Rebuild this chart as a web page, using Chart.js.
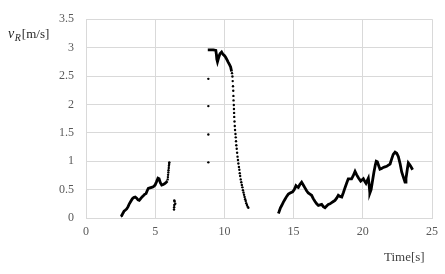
<!DOCTYPE html>
<html>
<head>
<meta charset="utf-8">
<script src="https://cdn.jsdelivr.net/npm/chart.js@4"></script>
<style>
  html, body { margin: 0; padding: 0; background: #fff; }
  #wrap { width: 445px; height: 274px; }
</style>
</head>
<body>
<div id="wrap"><canvas id="chart" width="445" height="274"></canvas></div>
<script>
// readings taken off the original plot (time in s, speed in m/s)
// first walking part (dense trace)
var tA = [2.5, 2.58, 2.66, 2.75, 2.85, 2.94, 3.04, 3.13, 3.25, 3.35, 3.45, 3.56, 3.66, 3.76, 3.85, 3.95, 4.05, 4.14, 4.25, 4.34, 4.42, 4.5, 4.62, 4.74, 4.86, 4.99, 5.1, 5.2, 5.28, 5.37, 5.47, 5.58, 5.71, 5.8, 5.88];
var vA = [0.03, 0.04, 0.08, 0.12, 0.14, 0.16, 0.2, 0.25, 0.3, 0.34, 0.36, 0.37, 0.35, 0.32, 0.31, 0.34, 0.37, 0.39, 0.42, 0.43, 0.48, 0.52, 0.53, 0.54, 0.55, 0.58, 0.64, 0.7, 0.69, 0.62, 0.58, 0.59, 0.61, 0.63, 0.65];

// plateau near 3 m/s
var tB = [8.8, 9.0, 9.2, 9.38, 9.42, 9.45, 9.5, 9.58, 9.68, 9.8, 9.9, 10.0, 10.09, 10.2, 10.28, 10.37, 10.45, 10.52];
var vB = [2.96, 2.96, 2.96, 2.95, 2.88, 2.8, 2.75, 2.82, 2.89, 2.92, 2.88, 2.86, 2.83, 2.78, 2.74, 2.7, 2.66, 2.58];

// last walking part (dense trace)
var tC = [13.9, 13.95, 14.05, 14.14, 14.26, 14.38, 14.5, 14.62, 14.75, 14.93, 15.05, 15.17, 15.25, 15.34, 15.45, 15.58, 15.7, 15.82, 15.94, 16.06, 16.18, 16.3, 16.42, 16.55, 16.67, 16.79, 16.91, 17.03, 17.15, 17.27, 17.39, 17.51, 17.63, 17.75, 17.87, 17.99, 18.11, 18.23, 18.35, 18.48, 18.6, 18.71, 18.83, 18.95, 19.07, 19.19, 19.3, 19.44, 19.56, 19.68, 19.85, 20.04, 20.15, 20.23, 20.32, 20.4, 20.45, 20.5, 20.52, 20.6, 20.7, 20.8, 20.9, 20.97, 21.05, 21.15, 21.24, 21.36, 21.48, 21.6, 21.73, 21.85, 21.97, 22.1, 22.2, 22.33, 22.45, 22.57, 22.7, 22.81, 22.93, 23.05, 23.12, 23.17, 23.23, 23.29, 23.38, 23.46, 23.53, 23.6];
var vC = [0.08, 0.11, 0.18, 0.22, 0.28, 0.33, 0.38, 0.42, 0.44, 0.46, 0.5, 0.57, 0.55, 0.54, 0.59, 0.63, 0.58, 0.53, 0.48, 0.44, 0.42, 0.4, 0.34, 0.29, 0.25, 0.22, 0.23, 0.24, 0.2, 0.18, 0.21, 0.24, 0.25, 0.27, 0.29, 0.31, 0.35, 0.4, 0.38, 0.37, 0.45, 0.53, 0.61, 0.69, 0.69, 0.69, 0.74, 0.82, 0.76, 0.71, 0.65, 0.69, 0.64, 0.61, 0.66, 0.7, 0.6, 0.5, 0.44, 0.5, 0.65, 0.8, 0.93, 1.0, 0.99, 0.92, 0.86, 0.87, 0.89, 0.9, 0.91, 0.93, 0.95, 1.05, 1.12, 1.16, 1.14, 1.08, 0.95, 0.81, 0.72, 0.63, 0.7, 0.78, 0.88, 0.97, 0.94, 0.91, 0.88, 0.85];

// loose samples (single dots)
var tDots = [5.9, 5.92, 5.93, 5.95, 5.96, 5.98, 5.99, 6.01, 6.02,
  6.36, 6.37, 6.38, 6.38, 6.4, 6.45,
  8.84, 8.84, 8.84, 8.84,
  10.55, 10.58, 10.6, 10.62, 10.64, 10.65, 10.66, 10.68, 10.69, 10.7, 10.71, 10.73, 10.75, 10.77, 10.8, 10.82, 10.84, 10.86, 10.89, 10.92, 10.95, 10.98, 11.01, 11.05, 11.08, 11.11, 11.14, 11.18, 11.22, 11.26, 11.3, 11.34, 11.38, 11.42, 11.46, 11.5, 11.54, 11.58, 11.63, 11.68, 11.73];
var vDots = [0.68, 0.72, 0.76, 0.8, 0.84, 0.88, 0.92, 0.95, 0.98,
  0.15, 0.19, 0.23, 0.31, 0.29, 0.25,
  0.98, 1.47, 1.97, 2.45,
  2.55, 2.49, 2.41, 2.32, 2.24, 2.15, 2.07, 1.99, 1.92, 1.85, 1.78, 1.7, 1.62, 1.55, 1.48, 1.42, 1.35, 1.28, 1.22, 1.15, 1.08, 1.02, 0.96, 0.9, 0.85, 0.79, 0.74, 0.68, 0.63, 0.58, 0.54, 0.49, 0.45, 0.41, 0.37, 0.33, 0.3, 0.26, 0.23, 0.2, 0.18];

var xTicksMax = 25;
var yTicksMax = 3.5;

function pairs(ts, vs) {
  return ts.map((t, i) => ({ x: t, y: vs[i] }));
}

const gridColor = "#d9d9d9";
const serif = '"Liberation Serif", "DejaVu Serif", serif';

// axis titles drawn as text next to the plot, like the original
const axisTitles = {
  id: "axisTitles",
  afterDraw(chart) {
    const c = chart.ctx;
    c.save();
    c.fillStyle = "#262626";
    c.textBaseline = "alphabetic";
    c.textAlign = "left";
    let x = 8;
    c.font = "italic 14px " + serif;
    c.fillText("v", x, 38);
    x += c.measureText("v").width + 0.5;
    c.font = "italic 10px " + serif;
    c.fillText("R", x, 41);
    x += c.measureText("R").width + 1;
    c.font = "13px " + serif;
    c.fillText("[m/s]", x, 38);
    c.font = "13px " + serif;
    c.fillStyle = "#404040";
    c.fillText("Time[s]", 384, 261);
    c.restore();
  },
};

const trace = {
  showLine: true,
  borderColor: "#000",
  borderWidth: 2.8,
  pointRadius: 0,
};

new Chart(document.getElementById("chart"), {
  type: "scatter",
  data: {
    datasets: [
      Object.assign({ data: pairs(tA, vA) }, trace),
      Object.assign({ data: pairs(tB, vB) }, trace),
      Object.assign({ data: pairs(tC, vC) }, trace),
      {
        data: pairs(tDots, vDots),
        backgroundColor: "#000",
        borderColor: "#000",
        borderWidth: 0,
        pointRadius: 1.2,
      },
    ],
  },
  options: {
    responsive: false,
    devicePixelRatio: 1,
    animation: false,
    layout: { padding: { left: 0, top: 10, right: 13, bottom: 0 } },
    plugins: {
      legend: { display: false },
      tooltip: { enabled: false },
    },
    scales: {
      x: {
        type: "linear",
        min: 0,
        max: xTicksMax,
        afterFit: (axis) => { axis.height = 56; },
        ticks: {
          stepSize: 5,
          padding: 7,
          color: "#595959",
          font: { family: serif, size: 12 },
        },
        grid: { color: gridColor, drawTicks: false },
        border: { color: gridColor },
      },
      y: {
        type: "linear",
        min: 0,
        max: yTicksMax,
        afterFit: (axis) => { axis.width = 86; },
        ticks: {
          stepSize: 0.5,
          padding: 12,
          color: "#595959",
          font: { family: serif, size: 12 },
          callback: (v) => String(Math.round(v * 10) / 10),
        },
        grid: { color: gridColor, drawTicks: false },
        border: { color: gridColor },
      },
    },
  },
  plugins: [axisTitles],
});
</script>
</body>
</html>
